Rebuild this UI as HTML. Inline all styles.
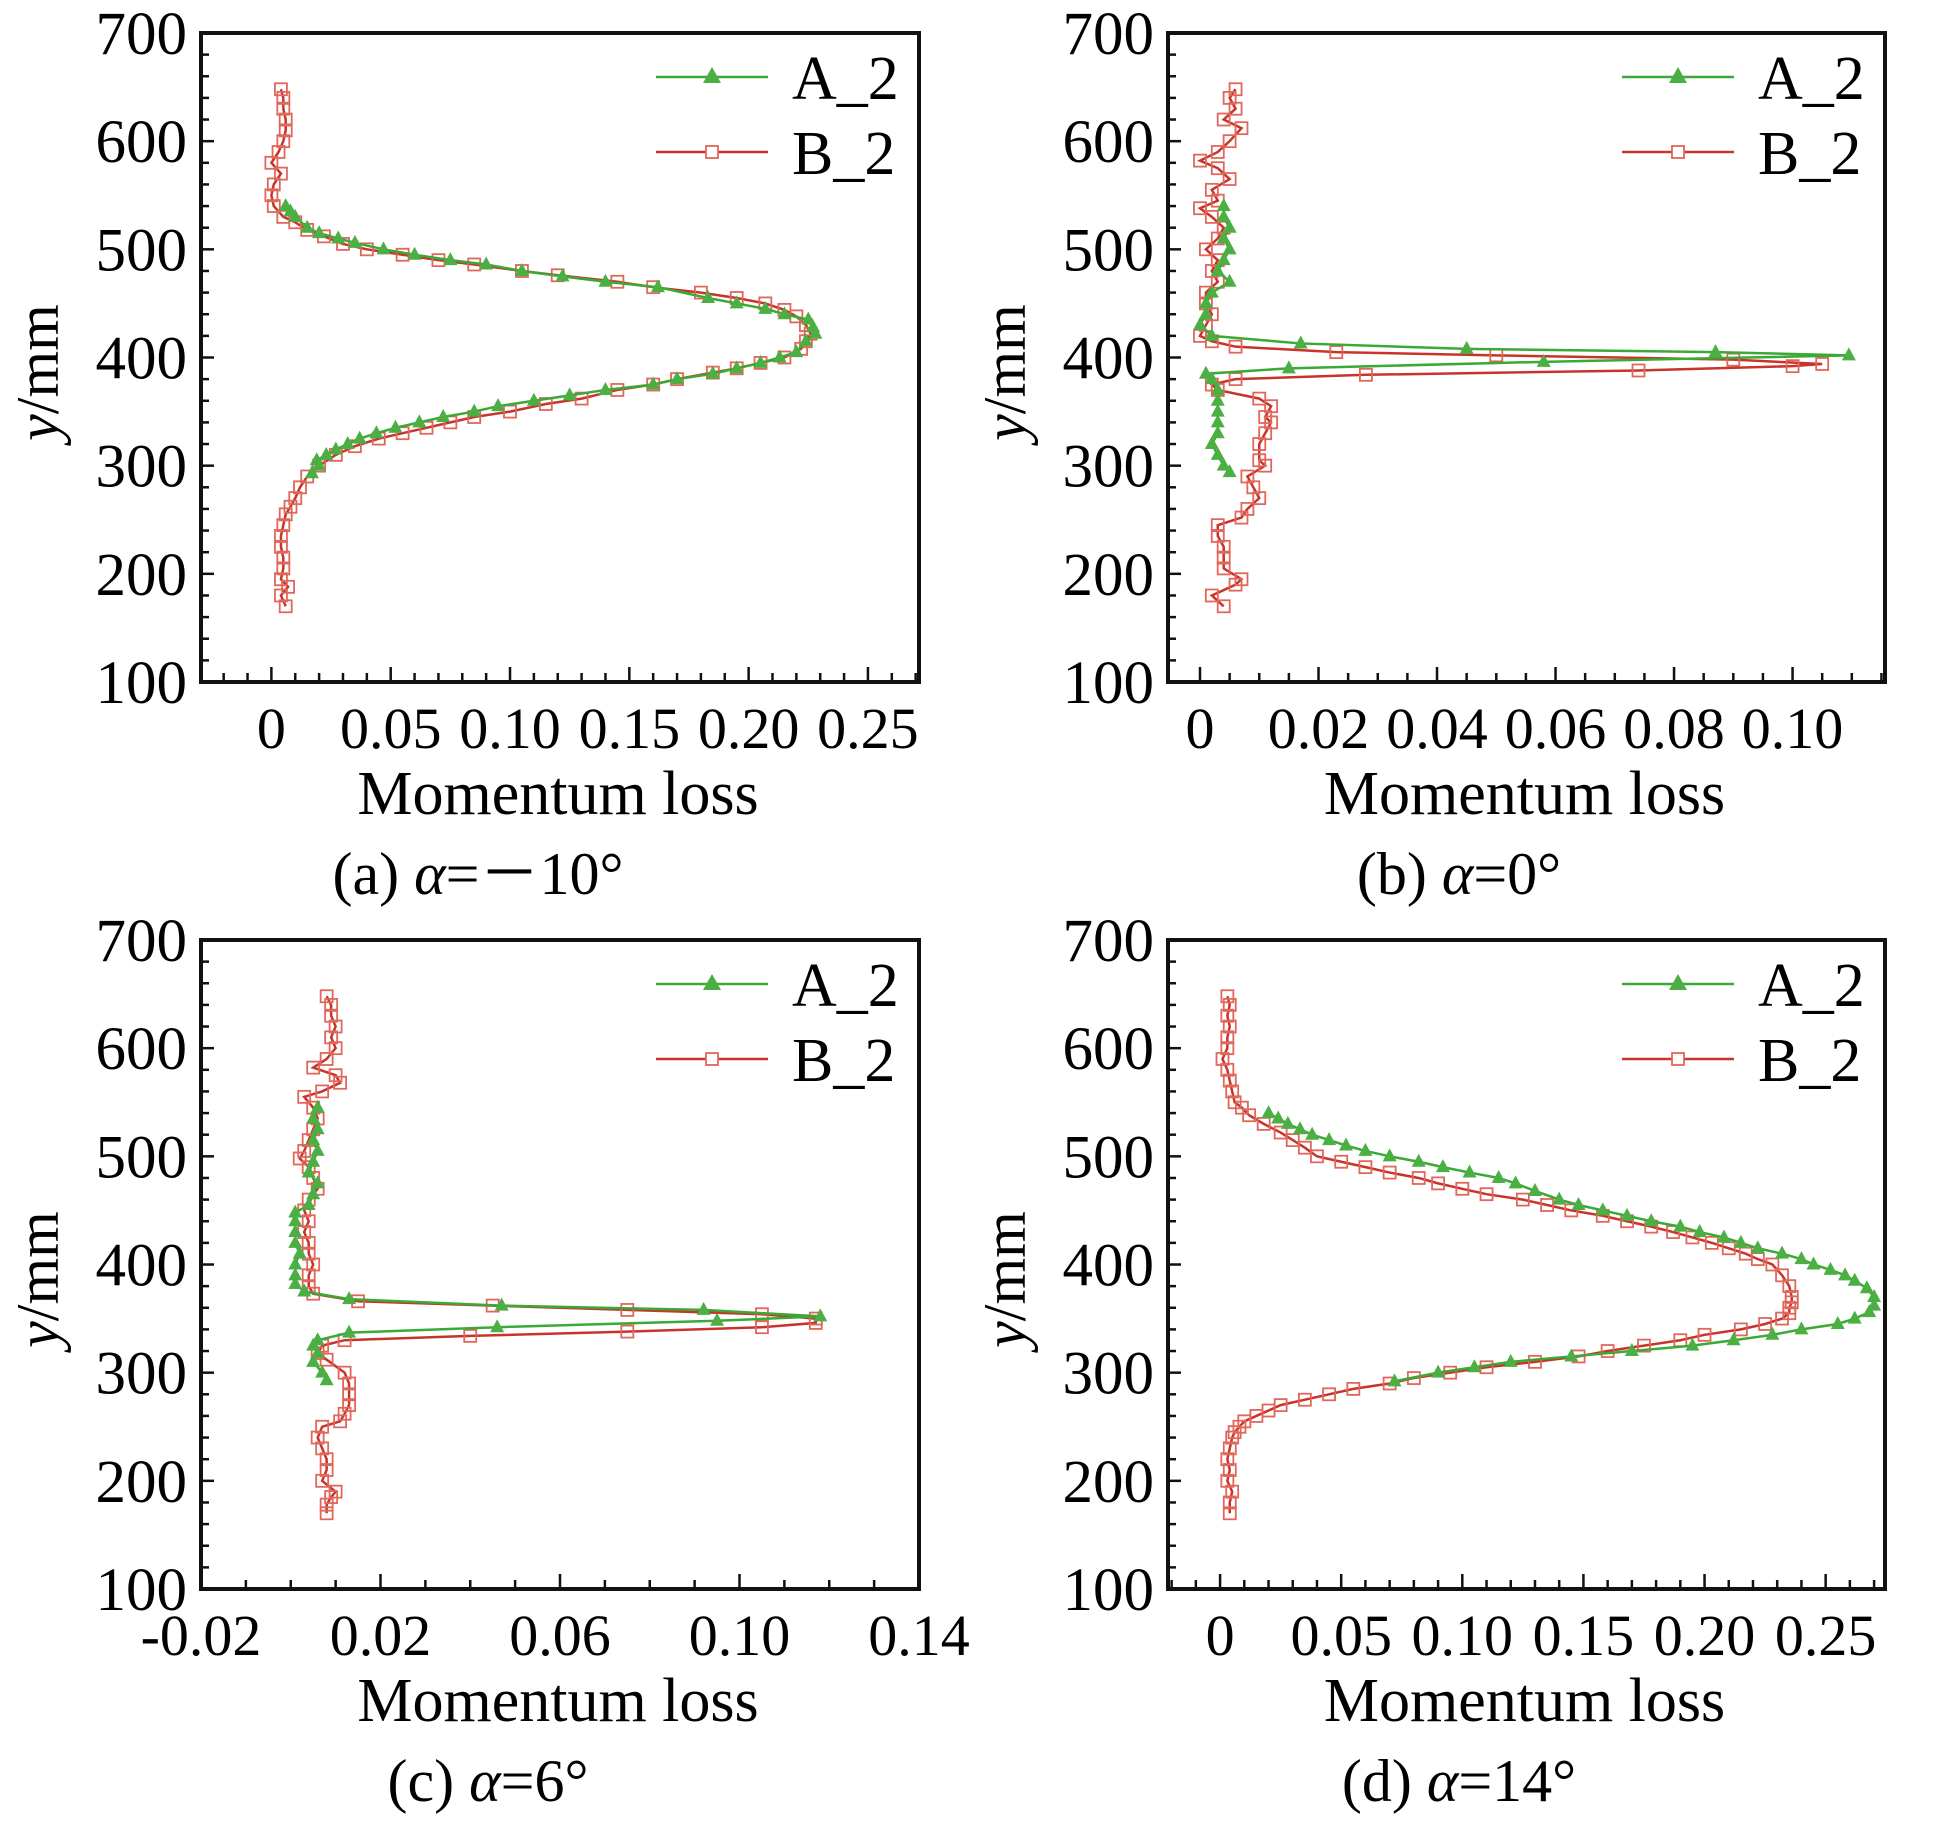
<!DOCTYPE html>
<html><head><meta charset="utf-8"><style>
html,body{margin:0;padding:0;background:#fff;}
svg{display:block;font-family:"Liberation Serif","Times New Roman",serif;}
</style></head><body>
<svg id="chart" width="1944" height="1822" viewBox="0 0 1944 1822" xmlns="http://www.w3.org/2000/svg"></svg>
<script>
// Panel (a) α=-10°
const aBy=[648,640,630,620,610,600,590,580,570,560,550,540,530,525,518,512,505,500,495,490,486,480,476,470,465,460,455,450,444,438,430,422,415,408,400,395,390,386,380,375,370,362,357,350,345,340,335,330,325,318,310,300,290,280,270,262,255,245,235,225,215,205,195,188,180,170];
const aBx=[0.004,0.005,0.005,0.006,0.006,0.005,0.003,0.0,0.004,0.001,0.0,0.001,0.005,0.01,0.015,0.022,0.03,0.04,0.055,0.07,0.085,0.105,0.12,0.145,0.16,0.18,0.195,0.207,0.215,0.22,0.224,0.226,0.224,0.222,0.215,0.205,0.195,0.185,0.17,0.16,0.145,0.13,0.115,0.1,0.085,0.075,0.065,0.055,0.045,0.035,0.027,0.02,0.015,0.012,0.01,0.008,0.006,0.005,0.004,0.004,0.005,0.005,0.004,0.007,0.004,0.006];
const aAy=[540,535,530,520,515,510,506,500,495,490,486,480,475,470,465,455,450,445,440,435,428,422,415,405,400,395,390,385,380,375,370,365,360,355,350,345,340,335,330,325,320,315,310,305,300,293];
const aAx=[0.006,0.008,0.01,0.015,0.02,0.028,0.035,0.047,0.06,0.075,0.09,0.105,0.122,0.14,0.162,0.183,0.195,0.207,0.215,0.225,0.227,0.228,0.224,0.22,0.213,0.205,0.195,0.185,0.17,0.16,0.14,0.125,0.11,0.095,0.085,0.072,0.062,0.052,0.044,0.037,0.032,0.027,0.023,0.019,0.02,0.017];
// Panel (b) α=0°
const bBy=[648,640,630,620,612,600,590,582,575,565,555,545,538,530,520,510,500,490,480,470,460,450,440,430,420,415,410,405,402,398,394,392,388,384,380,375,370,362,355,345,340,330,320,305,300,290,280,270,260,252,245,235,225,215,205,195,190,180,170];
const bBx=[0.006,0.005,0.006,0.004,0.007,0.005,0.003,0.0,0.003,0.005,0.002,0.003,0.0,0.002,0.004,0.003,0.001,0.003,0.002,0.003,0.001,0.001,0.002,0.001,0.0,0.002,0.006,0.023,0.05,0.09,0.105,0.1,0.074,0.028,0.006,0.002,0.003,0.01,0.012,0.011,0.012,0.011,0.01,0.01,0.011,0.008,0.009,0.01,0.008,0.007,0.003,0.003,0.004,0.004,0.004,0.007,0.006,0.002,0.004];
const bAy=[540,530,520,510,500,490,480,470,460,450,440,430,420,413,408,405,402,396,390,385,380,370,360,350,340,330,320,310,300,294];
const bAx=[0.004,0.004,0.005,0.004,0.005,0.004,0.003,0.005,0.002,0.001,0.001,0.0,0.002,0.017,0.045,0.087,0.1095,0.058,0.015,0.001,0.002,0.003,0.003,0.003,0.003,0.003,0.002,0.003,0.004,0.005];
// Panel (c) α=6°
const cBy=[648,640,630,620,610,600,590,582,575,568,560,555,545,535,525,515,505,498,490,480,470,460,450,440,430,420,410,400,390,380,373,366,362,358,354,350,346,342,338,334,330,325,318,312,300,290,280,270,262,255,250,240,230,220,210,200,190,185,178,170];
const cBx=[0.008,0.009,0.009,0.01,0.009,0.01,0.008,0.005,0.01,0.011,0.007,0.003,0.005,0.006,0.005,0.004,0.003,0.002,0.004,0.005,0.006,0.004,0.003,0.004,0.003,0.004,0.004,0.005,0.004,0.004,0.005,0.015,0.045,0.075,0.105,0.117,0.117,0.105,0.075,0.04,0.012,0.007,0.006,0.008,0.012,0.013,0.013,0.013,0.012,0.011,0.007,0.006,0.007,0.008,0.008,0.007,0.01,0.009,0.008,0.008];
const cAy=[545,535,525,515,505,495,485,475,465,455,448,440,430,420,410,400,390,382,375,368,362,358,352,348,342,337,330,325,318,310,300,293];
const cAx=[0.006,0.005,0.006,0.005,0.006,0.005,0.004,0.006,0.005,0.004,0.001,0.001,0.001,0.001,0.002,0.001,0.001,0.001,0.003,0.013,0.047,0.092,0.118,0.095,0.046,0.013,0.006,0.005,0.006,0.005,0.007,0.008];
// Panel (d) α=14°
const dBy=[648,640,630,620,610,600,590,580,570,560,550,545,538,530,522,515,508,500,495,490,485,480,475,470,465,460,455,450,445,440,435,430,425,420,415,410,405,400,390,380,370,365,360,355,350,345,340,335,330,325,320,315,310,305,300,295,290,285,280,275,270,265,260,255,250,245,240,230,220,210,200,190,180,170];
const dBx=[0.003,0.004,0.003,0.004,0.003,0.003,0.001,0.003,0.004,0.005,0.006,0.009,0.012,0.018,0.025,0.03,0.035,0.04,0.05,0.06,0.07,0.082,0.09,0.1,0.11,0.125,0.135,0.145,0.158,0.168,0.178,0.187,0.195,0.203,0.21,0.217,0.222,0.228,0.232,0.235,0.236,0.236,0.235,0.235,0.232,0.225,0.215,0.2,0.19,0.175,0.16,0.148,0.13,0.11,0.095,0.08,0.07,0.055,0.045,0.035,0.025,0.02,0.015,0.01,0.008,0.006,0.005,0.004,0.003,0.004,0.003,0.005,0.004,0.004];
const dAy=[540,535,530,525,520,515,510,505,500,495,490,485,480,475,468,460,455,450,445,440,435,430,425,420,415,410,405,400,395,390,385,378,370,362,356,350,345,340,335,330,325,320,315,310,305,300,292];
const dAx=[0.02,0.024,0.028,0.033,0.038,0.045,0.052,0.06,0.07,0.082,0.092,0.103,0.115,0.122,0.13,0.14,0.148,0.158,0.168,0.178,0.19,0.198,0.208,0.215,0.222,0.232,0.24,0.245,0.252,0.258,0.262,0.267,0.27,0.27,0.268,0.262,0.255,0.24,0.228,0.212,0.195,0.17,0.145,0.12,0.105,0.09,0.072];
// Tick labels
const yTicks=[100,200,300,400,500,600,700];
const aXTicks=[0,0.05,0.10,0.15,0.20,0.25];
const aXLabels=["0","0.05","0.10","0.15","0.20","0.25"];
const bXTicks=[0,0.02,0.04,0.06,0.08,0.10];
const bXLabels=["0","0.02","0.04","0.06","0.08","0.10"];
const cXTicks=[-0.02,0.02,0.06,0.10,0.14];
const cXLabels=["-0.02","0.02","0.06","0.10","0.14"];
const seriesNames=["A_2","B_2"];

const NS="http://www.w3.org/2000/svg";
const svg=document.getElementById('chart');
function mk(tag,attrs,parent){const e=document.createElementNS(NS,tag);for(const k in attrs)e.setAttribute(k,attrs[k]);(parent||svg).appendChild(e);return e;}
const GREEN="#3aa935",GFILL="#4caf44",RED="#c8342b",RSQ="#e0675a";

const panels=[
 {id:'a',L:201,R:919,T:33,B:682,xmin:-0.0295,xmax:0.2714,ticks:aXTicks,labels:aXLabels,minor:0.01,Ay:aAy,Ax:aAx,By:aBy,Bx:aBx,cap:'(a) ',capEnd:'=－10°',capX:478},
 {id:'b',L:1168,R:1885,T:33,B:682,xmin:-0.0054,xmax:0.1156,ticks:bXTicks,labels:bXLabels,minor:0.005,Ay:bAy,Ax:bAx,By:bBy,Bx:bBx,cap:'(b) ',capEnd:'=0°',capX:1459},
 {id:'c',L:201,R:919,T:940,B:1589,xmin:-0.02,xmax:0.14,ticks:cXTicks,labels:cXLabels,minor:0.01,Ay:cAy,Ax:cAx,By:cBy,Bx:cBx,cap:'(c) ',capEnd:'=6°',capX:488},
 {id:'d',L:1168,R:1885,T:940,B:1589,xmin:-0.0215,xmax:0.2745,ticks:aXTicks,labels:aXLabels,minor:0.01,Ay:dAy,Ax:dAx,By:dBy,Bx:dBx,cap:'(d) ',capEnd:'=14°',capX:1459}
];

panels.forEach(p=>{
 const g=mk('g',{});
 
 
 const sx=v=>p.L+(v-p.xmin)/(p.xmax-p.xmin)*(p.R-p.L);
 const sy=v=>p.B-(v-100)/600*(p.B-p.T);
 for(let v=100;v<=700;v+=20){
  const major=(v%100===0);
  const t=mk('line',{x1:p.L,x2:p.L+(major?13:8),y1:sy(v),y2:sy(v),stroke:'#111','stroke-width':2.5},g);
  
  
 }
 yTicks.forEach(v=>{
  const t=mk('text',{x:p.L-14,y:sy(v)+21,'text-anchor':'end','font-size':61},g);
  t.textContent=String(v);
  
  
 });
 const start=Math.ceil(p.xmin/p.minor-1e-6);
 for(let i=start;i*p.minor<=p.xmax+1e-9;i++){
  const v=i*p.minor;
  const major=p.ticks.some(t=>Math.abs(t-v)<1e-9);
  const x=sx(v);
  if(x<p.L+3||x>p.R-3)continue;
  const t=mk('line',{x1:x,x2:x,y1:p.B,y2:p.B-(major?15:9),stroke:'#111','stroke-width':2.5},g);
  
  
 }
 p.ticks.forEach((v,i)=>{
  const t=mk('text',{x:sx(v),y:p.B+66,'text-anchor':'middle','font-size':58},g);
  t.textContent=p.labels[i];
  
  
 });
 const fr=mk('rect',{x:p.L,y:p.T,width:p.R-p.L,height:p.B-p.T,fill:'none',stroke:'#111','stroke-width':4},g);
 
 
 const ptsB=p.By.map((y,i)=>sx(p.Bx[i])+','+sy(y)).join(' ');
 const lb=mk('polyline',{points:ptsB,fill:'none',stroke:RED,'stroke-width':2.5},g);
 
 
 p.By.forEach((y,i)=>{
  const m=mk('rect',{x:sx(p.Bx[i])-6,y:sy(y)-6,width:12,height:12,fill:'none',stroke:RSQ,'stroke-width':1.8},g);
  
  
 });
 const ptsA=p.Ay.map((y,i)=>sx(p.Ax[i])+','+sy(y)).join(' ');
 const la=mk('polyline',{points:ptsA,fill:'none',stroke:GREEN,'stroke-width':2.5},g);
 
 
 p.Ay.forEach((y,i)=>{
  const x=sx(p.Ax[i]),yy=sy(y);
  const m=mk('polygon',{points:`${x},${yy-8} ${x-7},${yy+5} ${x+7},${yy+5}`,fill:GFILL},g);
  
  
 });
 const lx1=p.R-263,lx2=p.R-151;
 const ly=[p.T+44,p.T+119];
 const lg=mk('g',{},g);
 
 
 const l1=mk('line',{x1:lx1,x2:lx2,y1:ly[0],y2:ly[0],stroke:GREEN,'stroke-width':2.5},lg);
 
 
 const mx=(lx1+lx2)/2;
 const t1=mk('polygon',{points:`${mx},${ly[0]-10} ${mx-9},${ly[0]+6} ${mx+9},${ly[0]+6}`,fill:GFILL},lg);
 
 
 const l2=mk('line',{x1:lx1,x2:lx2,y1:ly[1],y2:ly[1],stroke:RED,'stroke-width':2.5},lg);
 
 
 const s2=mk('rect',{x:mx-6,y:ly[1]-6,width:12,height:12,fill:'#fff',stroke:RSQ,'stroke-width':1.8},lg);
 
 
 seriesNames.forEach((n,i)=>{
  const t=mk('text',{x:p.R-127,y:ly[i]+22,'font-size':62},lg);
  t.textContent=n;
  
  
 });
 const xt=mk('text',{x:(p.L+p.R)/2-2,y:p.B+132,'text-anchor':'middle','font-size':62},g);
 xt.textContent='Momentum loss';
 
 
 const yc=(p.T+p.B)/2-5;
 const ytl=mk('text',{x:p.L-163,y:yc,'text-anchor':'middle','font-size':60,transform:`rotate(-90 ${p.L-143} ${yc})`},g);
 ytl.innerHTML='<tspan font-style="italic">y</tspan>/mm';
 
 
 const cap=mk('text',{x:p.capX,y:p.B+212,'text-anchor':'middle','font-size':60},g);
 cap.innerHTML=p.cap+'<tspan font-style="italic">α</tspan>'+p.capEnd;
 
 
});
</script>
</body></html>
